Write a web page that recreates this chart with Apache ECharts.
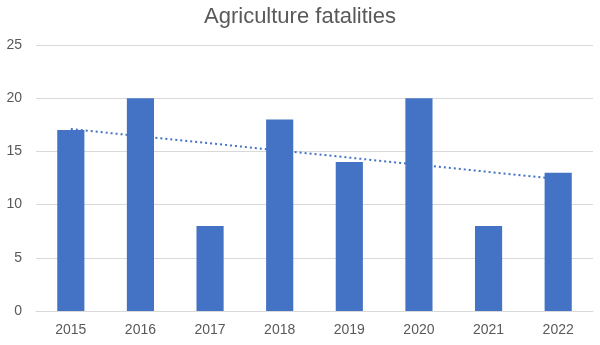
<!DOCTYPE html>
<html>
<head>
<meta charset="utf-8">
<script src="https://cdn.jsdelivr.net/npm/echarts@6/dist/echarts.min.js"></script>
<style>
  html, body { margin: 0; padding: 0; background: #fff; }
  #chart { width: 600px; height: 345px; }
</style>
</head>
<body>
<div id="chart"></div>
<script>
// Yearly agriculture fatalities
const years = ['2015', '2016', '2017', '2018', '2019', '2020', '2021', '2022'];
const fatalities = [17, 20, 8, 18, 14, 20, 8, 13];
// Linear trend: value at first and last year
const trendEnds = [17.1, 12.4];
const yTicks = [0, 5, 10, 15, 20, 25];

const trendData = years.map((y, i) =>
  i === 0 ? trendEnds[0] : (i === years.length - 1 ? trendEnds[1] : null));

const chart = echarts.init(document.getElementById('chart'));
const font = 'Liberation Sans, Arial, sans-serif';

chart.setOption({
  animation: false,
  title: {
    text: 'Agriculture fatalities',
    left: 'center',
    top: 1,
    textStyle: { fontFamily: font, fontSize: 22, fontWeight: 'normal', color: '#595959' }
  },
  grid: { left: 36, right: 7, top: 45, bottom: 34 },
  xAxis: {
    type: 'category',
    data: years,
    axisLine: { lineStyle: { color: '#d9d9d9', width: 1 } },
    axisTick: { show: false },
    axisLabel: { fontFamily: font, fontSize: 14, color: '#595959', margin: 12 }
  },
  yAxis: {
    type: 'value',
    min: yTicks[0],
    max: yTicks[yTicks.length - 1],
    interval: 5,
    axisLine: { show: false },
    axisTick: { show: false },
    splitLine: { lineStyle: { color: '#d9d9d9', width: 1 } },
    axisLabel: { fontFamily: font, fontSize: 14, color: '#595959', margin: 14 }
  },
  series: [
    {
      type: 'line',
      data: trendData,
      connectNulls: true,
      symbol: 'none',
      z: 1,
      lineStyle: { color: '#4472C4', width: 2, type: [2, 3] }
    },
    {
      type: 'bar',
      data: fatalities,
      barWidth: '39%',
      z: 2,
      itemStyle: { color: '#4472C4' }
    }
  ]
});
</script>
</body>
</html>
